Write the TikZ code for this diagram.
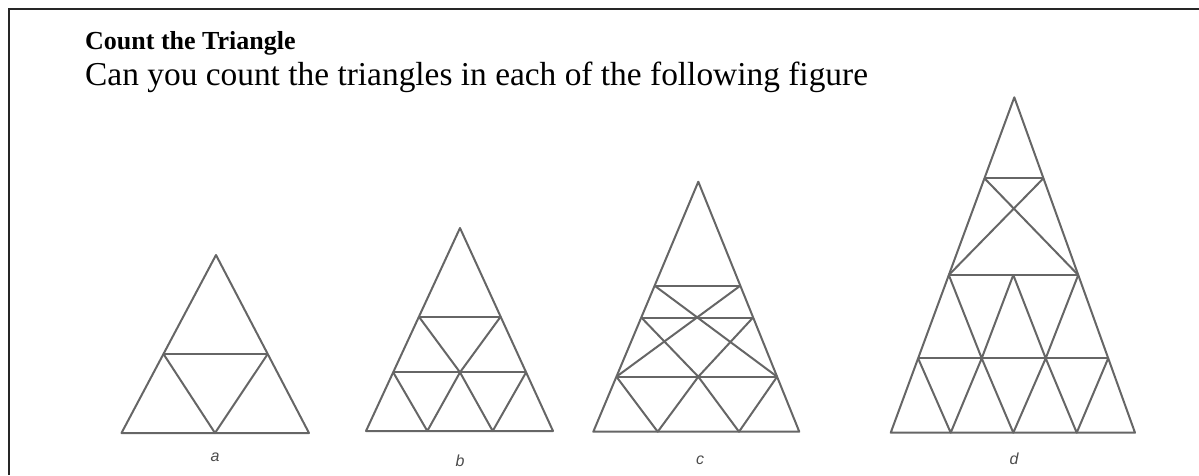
\documentclass[tikz,border=0pt]{standalone}
\usepackage{fontspec}
\setmainfont{Liberation Serif}
\setsansfont{Liberation Sans}

\begin{document}
\begin{tikzpicture}[
    x=1pt, y=-1pt,
    frame/.style={draw=black!85, line width=2.7pt},
    fig/.style={draw=black!60, line width=2pt, line join=round},
    heading/.style={anchor=base west, inner sep=0pt, font=\fontsize{26}{30}\selectfont\bfseries},
    question/.style={anchor=base west, inner sep=0pt, font=\fontsize{33.4}{38}\selectfont},
    lbl/.style={inner sep=0pt, text=black!70, font=\fontsize{16}{19}\selectfont\sffamily\itshape}
]
    \useasboundingbox (0,0) rectangle (1199,475);

    % Frame
    \draw[frame] (9,475) -- (9,9) -- (1199,9);

    % Text
    \node[heading] (title) at (85,49) {Count the Triangle};
    \node[question] (ask) at (85,85) {Can you count the triangles in each of the following figure};

    % Figure a
    \coordinate (a0) at (216,255);
    \coordinate (a1) at (121.5,433);
    \coordinate (a2) at (309,433);
    \coordinate (a3) at (163.5,354);
    \coordinate (a4) at (267.7,354);
    \coordinate (a5) at (215,433);
    \draw[fig] (a0) -- (a1) -- (a2) -- cycle;
    \draw[fig] (a3) -- (a4);
    \draw[fig] (a3) -- (a5) -- (a4);
    \node[lbl] (la) at (215,457) {a};

    % Figure b
    \coordinate (b0) at (460,228);
    \coordinate (b1) at (366,431);
    \coordinate (b2) at (553,431);
    \coordinate (b3) at (418.9,316.7);
    \coordinate (b4) at (500.6,316.7);
    \coordinate (b5) at (393.2,372.3);
    \coordinate (b6) at (460,372.3);
    \coordinate (b7) at (526.1,372.3);
    \coordinate (b8) at (427.3,431);
    \coordinate (b9) at (492.7,431);
    \draw[fig] (b0) -- (b1) -- (b2) -- cycle;
    \draw[fig] (b3) -- (b4);
    \draw[fig] (b5) -- (b7);
    \draw[fig] (b3) -- (b6) -- (b4);
    \draw[fig] (b5) -- (b8) -- (b6) -- (b9) -- (b7);
    \node[lbl] (lb) at (460,461) {b};

    % Figure c
    \coordinate (c0) at (698.3,181.7);
    \coordinate (c1) at (593.3,431.7);
    \coordinate (c2) at (799.3,431.7);
    \coordinate (c3) at (654.6,285.7);
    \coordinate (c4) at (740.3,285.7);
    \coordinate (c5) at (641.3,317.5);
    \coordinate (c6) at (753.1,317.5);
    \coordinate (c7) at (616.4,376.7);
    \coordinate (c8) at (698.3,376.7);
    \coordinate (c9) at (777.1,376.7);
    \coordinate (c10) at (657.7,431.7);
    \coordinate (c11) at (739,431.7);
    \draw[fig] (c0) -- (c1) -- (c2) -- cycle;
    \draw[fig] (c3) -- (c4);
    \draw[fig] (c5) -- (c6);
    \draw[fig] (c7) -- (c9);
    \draw[fig] (c3) -- (c9);
    \draw[fig] (c4) -- (c7);
    \draw[fig] (c5) -- (c8) -- (c6);
    \draw[fig] (c7) -- (c10) -- (c8) -- (c11) -- (c9);
    \node[lbl] (lc) at (700,460) {c};

    % Figure d
    \coordinate (d0) at (1014.3,97.3);
    \coordinate (d1) at (890.7,432.7);
    \coordinate (d2) at (1135,432.7);
    \coordinate (d3) at (984.5,178.3);
    \coordinate (d4) at (1043.4,178.3);
    \coordinate (d5) at (948.8,275);
    \coordinate (d6) at (1013.3,275);
    \coordinate (d7) at (1078.2,275);
    \coordinate (d8) at (918.1,358.3);
    \coordinate (d9) at (981.7,358.3);
    \coordinate (d10) at (1045.7,358.3);
    \coordinate (d11) at (1108.2,358.3);
    \coordinate (d12) at (950.7,432.7);
    \coordinate (d13) at (1013.3,432.7);
    \coordinate (d14) at (1076.7,432.7);
    \draw[fig] (d0) -- (d1) -- (d2) -- cycle;
    \draw[fig] (d3) -- (d4);
    \draw[fig] (d5) -- (d7);
    \draw[fig] (d8) -- (d11);
    \draw[fig] (d3) -- (d7);
    \draw[fig] (d4) -- (d5);
    \draw[fig] (d5) -- (d9) -- (d6) -- (d10) -- (d7);
    \draw[fig] (d8) -- (d12) -- (d9) -- (d13) -- (d10) -- (d14) -- (d11);
    \node[lbl] (ld) at (1014,459) {d};
\end{tikzpicture}
\end{document}
